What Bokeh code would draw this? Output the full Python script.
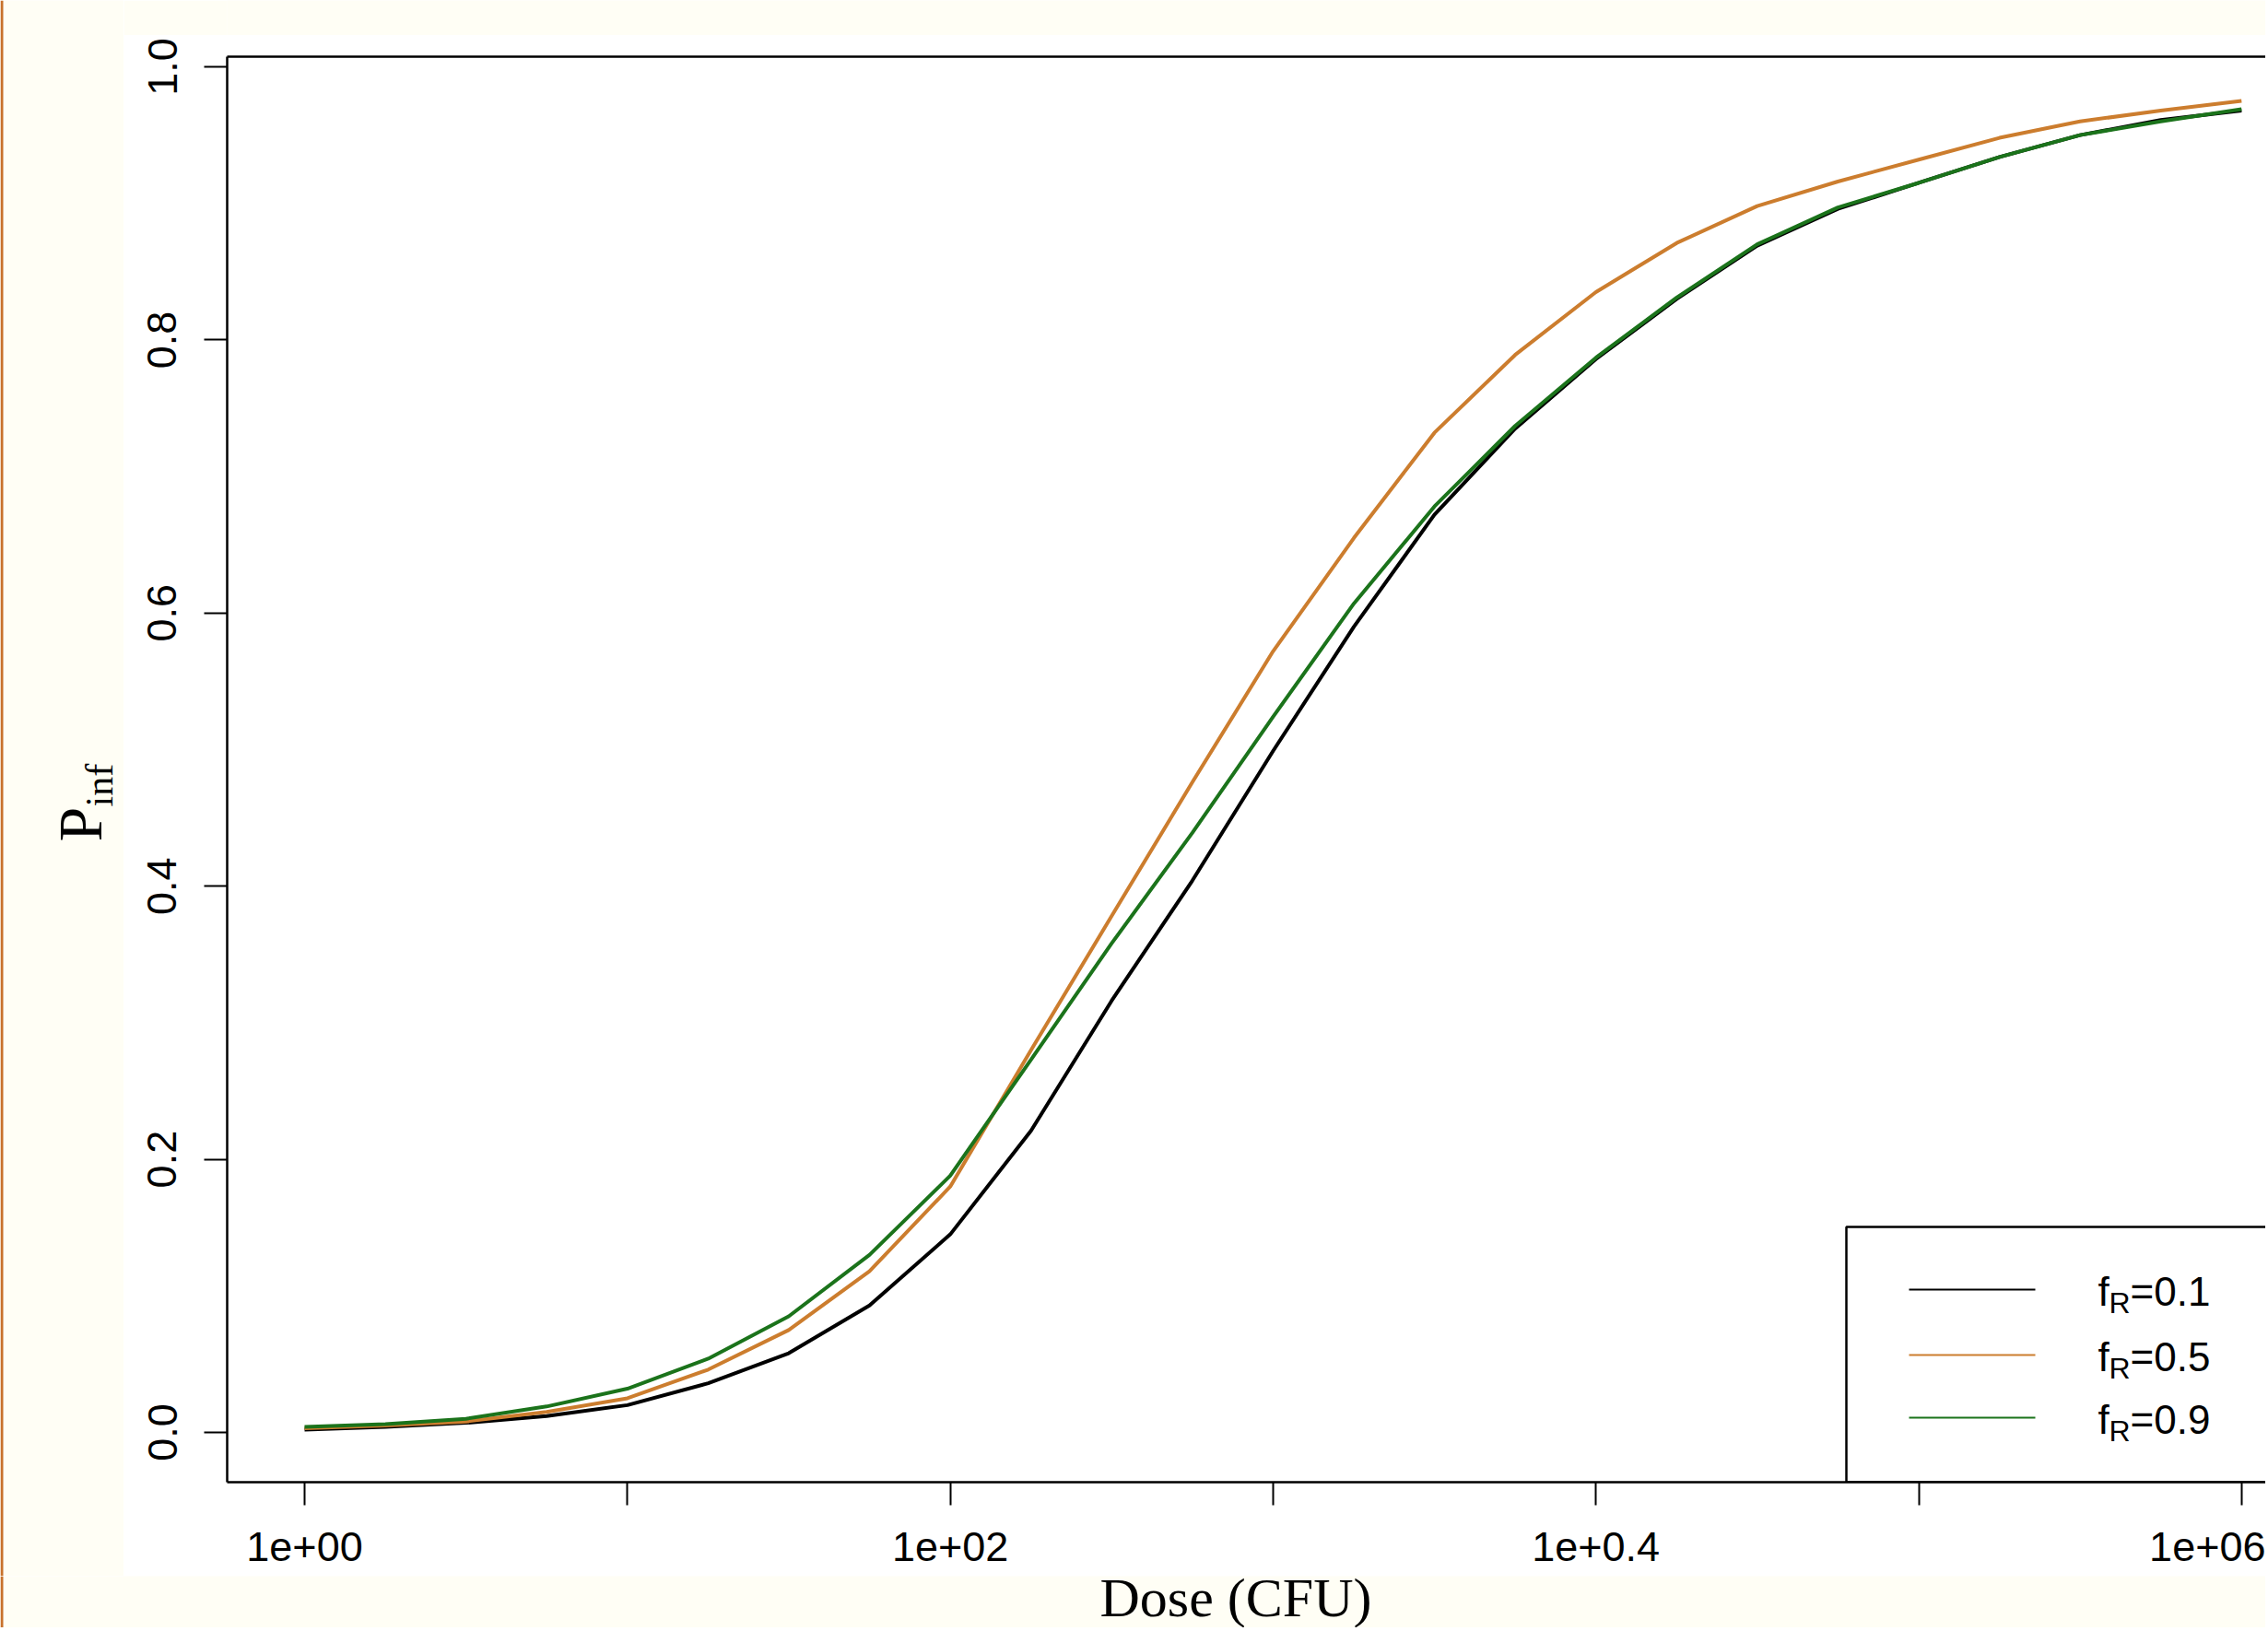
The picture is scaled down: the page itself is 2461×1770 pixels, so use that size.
import math
from bokeh.plotting import figure
from bokeh.layouts import row, column
from bokeh.models import Range1d, FixedTicker, LogAxis, Label
from bokeh.embed import file_html
from bokeh.resources import INLINE

# ---------------- data ----------------
dose = [1, 1.78, 3.16, 5.62, 10, 17.8, 31.6, 56.2, 100, 178, 316, 562,
        1000, 1780, 3160, 5620, 10000, 17800, 31600, 56200,
        100000, 178000, 316000, 562000, 1000000]
p_fr01 = [0.002, 0.004, 0.007, 0.012, 0.020, 0.036, 0.058, 0.093, 0.145, 0.221,
          0.316, 0.404, 0.499, 0.590, 0.672, 0.735, 0.786, 0.830, 0.869, 0.896,
          0.915, 0.934, 0.950, 0.961, 0.968]
p_fr05 = [0.003, 0.005, 0.008, 0.015, 0.025, 0.046, 0.075, 0.118, 0.180, 0.280,
          0.378, 0.476, 0.572, 0.655, 0.732, 0.789, 0.835, 0.871, 0.898, 0.916,
          0.932, 0.948, 0.960, 0.968, 0.975]
p_fr09 = [0.004, 0.006, 0.010, 0.019, 0.032, 0.054, 0.085, 0.130, 0.188, 0.273,
          0.358, 0.439, 0.524, 0.607, 0.678, 0.737, 0.787, 0.831, 0.870, 0.897,
          0.915, 0.934, 0.950, 0.960, 0.969]

series_values = ["0.1", "0.5", "0.9"]
series_colors = ["#000000", "#CC7D2E", "#1B731B"]

x_tick_values = [1, 10, 100, 1000, 10000, 100000, 1000000]
x_tick_labels = ["1e+00", "", "1e+02", "", "1e+0.4", "", "1e+06"]
y_tick_values = [0.0, 0.2, 0.4, 0.6, 0.8, 1.0]
y_tick_labels = ["0.0", "0.2", "0.4", "0.6", "0.8", "1.0"]

x_title = "Dose (CFU)"
y_title_main, y_title_sub = "P", "inf"

# ---------------- page geometry ----------------
PAGE_W, PAGE_H = 2458, 1766
LEFT_W = 134          # cream strip on the left
TOP_H = 38            # cream strip on top
MAIN_BOTTOM = 1710    # end of the white device area
FRAME_L, FRAME_T, FRAME_B = 246, 61, 1608

X0, DEC = 330.0, 350.3     # page x of dose=1, pixels per decade
Y0, UNIT = 1554.0, 1482.0  # page y of P=0, pixels per unit


def dx(px):
    return 10 ** ((px - X0) / DEC)


def dy(py):
    return (Y0 - py) / UNIT


def mid(baseline, size):
    # text is anchored at its middle: shift from the wanted baseline
    return baseline - 0.32 * size


CREAM = "#FFFEF5"
BORDER_ORANGE = "#C8722C"


def blank(width, height):
    f = figure(width=width, height=height, x_range=Range1d(0, width), y_range=Range1d(0, height),
               x_axis_location=None, y_axis_location=None, title_location=None,
               output_backend="svg", toolbar_location=None, min_border=0)
    f.grid.visible = False
    f.outline_line_color = None
    f.background_fill_color = CREAM
    f.border_fill_color = CREAM
    return f


# ---------------- main plot ----------------
main_w = PAGE_W - LEFT_W
main_h = MAIN_BOTTOM - TOP_H
p = figure(width=main_w, height=main_h, x_axis_type="log",
           x_range=Range1d(dx(FRAME_L), dx(PAGE_W)), y_range=Range1d(dy(FRAME_B), dy(FRAME_T)),
           output_backend="svg", toolbar_location=None,
           min_border_left=FRAME_L - LEFT_W, min_border_top=FRAME_T - TOP_H,
           min_border_bottom=MAIN_BOTTOM - FRAME_B, min_border_right=0)
p.outline_line_color = None
p.grid.visible = False
p.background_fill_color = "white"
p.border_fill_color = "white"

xa = p.xaxis[0]
xa.ticker = FixedTicker(ticks=x_tick_values)
xa.major_label_overrides = {v: s for v, s in zip(x_tick_values, x_tick_labels)}
ya = p.yaxis[0]
ya.ticker = FixedTicker(ticks=y_tick_values)
ya.major_label_overrides = {v: s for v, s in zip(y_tick_values, y_tick_labels)}
ya.major_label_orientation = "vertical"
for ax in (xa, ya):
    ax.axis_line_width = 2.5
    ax.axis_line_color = "black"
    ax.major_tick_out = 25
    ax.major_tick_in = 0
    ax.major_tick_line_width = 2
    ax.major_tick_line_color = "black"
    ax.minor_tick_line_color = None
    ax.major_label_text_font = "Liberation Sans"
    ax.major_label_text_font_size = "45px"
    ax.major_label_text_color = "black"
xa.major_label_standoff = 29
ya.major_label_standoff = 30

top_axis = LogAxis(ticker=FixedTicker(ticks=[]), axis_line_width=2.5, axis_line_color="black",
                   major_tick_line_color=None, minor_tick_line_color=None,
                   major_tick_out=0, major_tick_in=0, major_label_standoff=0,
                   major_label_text_font_size="0px")
p.add_layout(top_axis, "above")

# curves
for vals, col in zip([p_fr01, p_fr05, p_fr09], series_colors):
    p.line(dose, vals, line_color=col, line_width=4)

# legend
p.quad(left=[dx(2003)], right=[dx(2700)], top=[dy(1331)], bottom=[dy(FRAME_B)],
       fill_color="white", line_color="black", line_width=2.5)
row_y = [1399, 1470, 1538]
p.segment(x0=[dx(2071)] * 3, x1=[dx(2208)] * 3, y0=[dy(v) for v in row_y],
          y1=[dy(v) for v in row_y], line_color=series_colors, line_width=2.2)
for ry, s in zip(row_y, series_values):
    base = ry + 16
    p.add_layout(Label(x=dx(2276), y=dy(mid(base, 44)), text="f", text_font="Liberation Sans",
                       text_font_size="44px", text_color="black",
                       text_align="left", text_baseline="middle"))
    p.add_layout(Label(x=dx(2288), y=dy(mid(base + 9, 32)), text="R", text_font="Liberation Sans",
                       text_font_size="32px", text_color="black",
                       text_align="left", text_baseline="middle"))
    p.add_layout(Label(x=dx(2311), y=dy(mid(base, 44)), text="=" + s, text_font="Liberation Sans",
                       text_font_size="44px", text_color="black",
                       text_align="left", text_baseline="middle"))

# ---------------- surrounding cream strips with the axis titles ----------------
left_h = MAIN_BOTTOM
left = blank(LEFT_W, left_h)
left.quad(left=[0], right=[3], top=[left_h], bottom=[0], fill_color=BORDER_ORANGE,
          line_color=None)
left.add_layout(Label(x=mid(108, 68), y=left_h - 913, text=y_title_main,
                      text_font="Liberation Serif", text_font_size="68px", text_color="black",
                      text_align="left", text_baseline="middle", angle=math.pi / 2))
left.add_layout(Label(x=mid(121, 42), y=left_h - 875, text=y_title_sub,
                      text_font="Liberation Serif", text_font_size="42px", text_color="black",
                      text_align="left", text_baseline="middle", angle=math.pi / 2))

top = blank(main_w, TOP_H)
top.quad(left=[0], right=[1], top=[1], bottom=[0], fill_color=CREAM, line_color=None)

bottom_h = PAGE_H - MAIN_BOTTOM
bottom = blank(PAGE_W, bottom_h)
bottom.quad(left=[0], right=[3], top=[bottom_h], bottom=[0], fill_color=BORDER_ORANGE,
            line_color=None)
bottom.add_layout(Label(x=1193, y=PAGE_H - mid(1753, 60), text=x_title,
                        text_font="Liberation Serif", text_font_size="60px", text_color="black",
                        text_align="left", text_baseline="middle"))

layout = column(row(left, column(top, p, spacing=0), spacing=0), bottom, spacing=0)

open("out.html", "w").write(file_html(layout, INLINE))
